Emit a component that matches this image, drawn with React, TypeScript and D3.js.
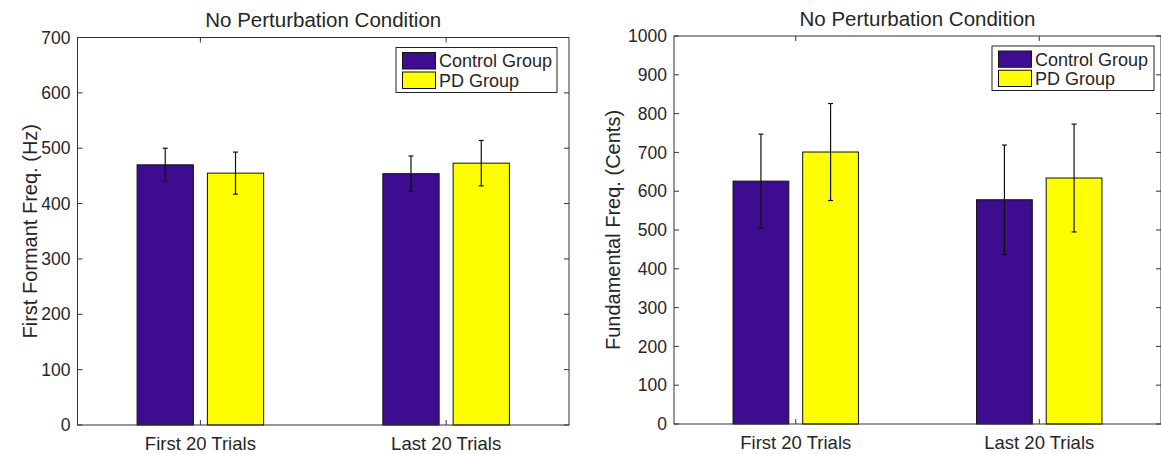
import React, { useEffect, useRef } from 'react';
import * as d3 from 'd3';

// values
const categories = ['First 20 Trials', 'Last 20 Trials'];
const groups = ['Control Group', 'PD Group'];

const formantControl = [470, 454];
const formantControlErr = [30, 32];
const formantPd = [455, 473];
const formantPdErr = [38, 41];
const formantTicks = [0, 100, 200, 300, 400, 500, 600, 700];

const pitchControl = [626, 578];
const pitchControlErr = [121, 141];
const pitchPd = [701, 634];
const pitchPdErr = [125, 139];
const pitchTicks = [0, 100, 200, 300, 400, 500, 600, 700, 800, 900, 1000];

const TITLE = 'No Perturbation Condition';
const FONT = '"Liberation Sans", Arial, Helvetica, sans-serif';
const INK = '#262626';
const CONTROL_COLOR = '#3d0c8f';
const PD_COLOR = '#ffff00';
// matlab grouped bar geometry (2 series)
const BAR_W = 0.229;
const BAR_OFFSET = 0.143;

type Panel = {
	left: number; right: number; top: number; bottom: number;
	ticks: number[]; yLabel: string; yLabelX: number;
	control: number[]; controlErr: number[]; pd: number[]; pdErr: number[];
	legend: { x: number; y: number; w: number; h: number };
};

const panels: Panel[] = [
	{
		left: 77.5, right: 569, top: 37.5, bottom: 425,
		ticks: formantTicks, yLabel: 'First Formant Freq. (Hz)', yLabelX: 36.5,
		control: formantControl, controlErr: formantControlErr, pd: formantPd, pdErr: formantPdErr,
		legend: { x: 396, y: 47.5, w: 161, h: 45 }
	},
	{
		left: 674, right: 1161, top: 36, bottom: 424,
		ticks: pitchTicks, yLabel: 'Fundamental Freq. (Cents)', yLabelX: 620,
		control: pitchControl, controlErr: pitchControlErr, pd: pitchPd, pdErr: pitchPdErr,
		legend: { x: 992, y: 46, w: 162, h: 44.5 }
	}
];

const drawPanel = (svg: d3.Selection<SVGSVGElement, unknown, null, undefined>, p: Panel) => {
	const x = d3.scaleLinear().domain([0.5, 2.5]).range([p.left, p.right]);
	const y = d3.scaleLinear().domain([0, p.ticks[p.ticks.length - 1]]).range([p.bottom, p.top]);
	const g = svg.append('g');

	const series = [
		{ name: groups[0], color: CONTROL_COLOR, values: p.control, errors: p.controlErr, offset: -BAR_OFFSET },
		{ name: groups[1], color: PD_COLOR, values: p.pd, errors: p.pdErr, offset: BAR_OFFSET }
	];

	series.forEach((s) => {
		g.selectAll(null)
			.data(s.values)
			.enter()
			.append('rect')
			.attr('x', (d, i) => x(i + 1 + s.offset - BAR_W / 2))
			.attr('y', (d) => y(d))
			.attr('width', x(BAR_W) - x(0))
			.attr('height', (d) => y(0) - y(d))
			.attr('fill', s.color)
			.attr('stroke', '#111')
			.attr('stroke-width', 1);
	});

	series.forEach((s) => {
		s.values.forEach((v, i) => {
			const cx = x(i + 1 + s.offset);
			const eb = g.append('g').attr('stroke', '#111').attr('stroke-width', 1.2);
			eb.append('line')
				.attr('x1', cx).attr('x2', cx)
				.attr('y1', y(v - s.errors[i])).attr('y2', y(v + s.errors[i]));
			[v - s.errors[i], v + s.errors[i]].forEach((e) => {
				eb.append('line')
					.attr('x1', cx - 2.5).attr('x2', cx + 2.5)
					.attr('y1', y(e)).attr('y2', y(e));
			});
		});
	});

	// axes box
	g.append('rect')
		.attr('x', p.left).attr('y', p.top)
		.attr('width', p.right - p.left).attr('height', p.bottom - p.top)
		.attr('fill', 'none')
		.attr('stroke', '#333')
		.attr('stroke-width', 1);

	const ticks = g.append('g').attr('stroke', '#333').attr('stroke-width', 1);
	p.ticks.forEach((t) => {
		ticks.append('line').attr('x1', p.left).attr('x2', p.left + 5).attr('y1', y(t)).attr('y2', y(t));
		ticks.append('line').attr('x1', p.right - 5).attr('x2', p.right).attr('y1', y(t)).attr('y2', y(t));
	});
	categories.forEach((c, i) => {
		ticks.append('line').attr('x1', x(i + 1)).attr('x2', x(i + 1)).attr('y1', p.bottom).attr('y2', p.bottom - 5);
		ticks.append('line').attr('x1', x(i + 1)).attr('x2', x(i + 1)).attr('y1', p.top).attr('y2', p.top + 5);
	});

	const text = g.append('g').attr('font-family', FONT).attr('fill', INK);

	text.selectAll(null)
		.data(p.ticks)
		.enter()
		.append('text')
		.attr('x', p.left - 7)
		.attr('y', (d) => y(d))
		.attr('dy', '0.35em')
		.attr('text-anchor', 'end')
		.attr('font-size', 17.5)
		.text((d) => d);

	text.selectAll(null)
		.data(categories)
		.enter()
		.append('text')
		.attr('x', (d, i) => x(i + 1))
		.attr('y', p.bottom + 25)
		.attr('text-anchor', 'middle')
		.attr('font-size', 18.5)
		.text((d) => d);

	text.append('text')
		.attr('x', (p.left + p.right) / 2)
		.attr('y', p.top - 10.5)
		.attr('text-anchor', 'middle')
		.attr('font-size', 20.5)
		.text(TITLE);

	text.append('text')
		.attr('transform', `translate(${ p.yLabelX }, ${ (p.top + p.bottom) / 2 }) rotate(-90)`)
		.attr('text-anchor', 'middle')
		.attr('font-size', 20)
		.text(p.yLabel);

	// legend
	const lg = g.append('g').attr('transform', `translate(${ p.legend.x }, ${ p.legend.y })`);
	lg.append('rect')
		.attr('width', p.legend.w).attr('height', p.legend.h)
		.attr('fill', '#fff')
		.attr('stroke', '#222')
		.attr('stroke-width', 1);
	const rowH = (p.legend.h - 6) / 2;
	series.forEach((s, i) => {
		lg.append('rect')
			.attr('x', 6.5).attr('y', 3.5 + i * rowH + 1.5)
			.attr('width', 33).attr('height', rowH - 3)
			.attr('fill', s.color)
			.attr('stroke', '#111')
			.attr('stroke-width', 1);
		lg.append('text')
			.attr('x', 43)
			.attr('y', 3.5 + i * rowH + rowH / 2 + 6.5)
			.attr('font-family', FONT)
			.attr('font-size', 18)
			.attr('fill', INK)
			.text(s.name);
	});
};

const App = () => {
	const ref = useRef<SVGSVGElement>(null);

	useEffect(() => {
		const svg = d3.select(ref.current as SVGSVGElement);
		svg.selectAll('*').remove();
		panels.forEach((p) => drawPanel(svg, p));
	}, []);

	return (
		<div style={ { position: 'absolute', left: 0, top: 0 } }>
			<svg ref={ ref } width={ 1161 } height={ 454 } style={ { display: 'block', background: '#fff' } }/>
		</div>
	);
};

export default App;
